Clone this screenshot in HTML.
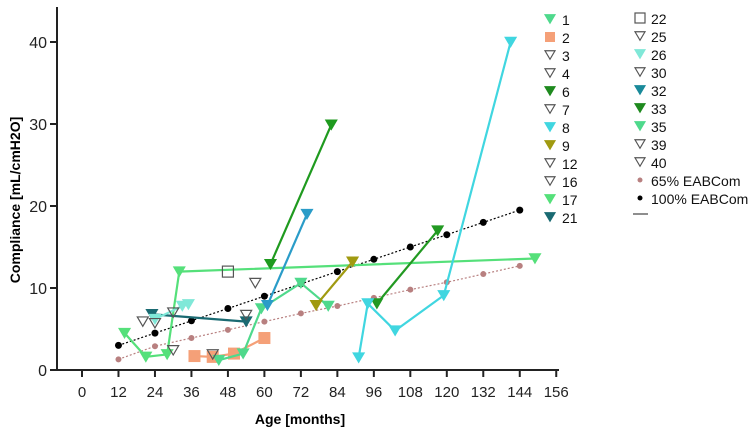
<!DOCTYPE html>
<html><head><meta charset="utf-8"><style>
body{margin:0;background:#fff;}
svg text{font-family:"Liberation Sans",sans-serif;}
</style></head><body>
<svg id="chart" width="749" height="436">
<g id="axes"></g>
<g id="marks"></g>
<g id="legend"></g>
<text transform="translate(20,200) rotate(-90)" text-anchor="middle" font-size="14" font-weight="bold">Compliance [mL/cmH2O]</text>
<text x="300" y="424" text-anchor="middle" font-size="14" font-weight="bold">Age [months]</text>
</svg>
<script>
const xTicks=[0,12,24,36,48,60,72,84,96,108,120,132,144,156];
const yTicks=[0,10,20,30,40];
const refMonths=[12,24,36,48,60,72,84,96,108,120,132,144];
const ref100=[3,4.5,6,7.5,9,10.5,12,13.5,15,16.5,18,19.5];
const ref65=[1.3,2.9,3.9,4.9,5.9,6.9,7.8,8.8,9.8,10.7,11.7,12.7];
const s17x=[14,21,28,32,149];const s17y=[4.5,1.6,1.9,12,13.6];
const s35x=[45,53,59,72,81];const s35y=[1.2,2,7.5,10.6,7.8];
const s21x=[23,54];const s21y=[6.8,5.9];
const s2x=[37,43,50,60];const s2y=[1.7,1.6,2,3.9];
const s6x=[62,82];const s6y=[12.9,29.9];
const s32x=[61,74];const s32y=[7.9,19];
const s9x=[77,89];const s9y=[7.9,13.2];
const s33x=[97,117];const s33y=[8.1,17];
const s8x=[91,94,103,119,141];const s8y=[1.5,8.1,4.8,9.1,40];
const openX=[20,24,30,30,43,54,57];const openY=[5.9,5.7,7,2.4,1.9,6.7,10.6];
const s26x=[24,33,35];const s26y=[6.2,7.8,8];
const s22x=[48];const s22y=[12];
const legend1=["1","2","3","4","6","7","8","9","12","16","17","21"];
const legend2=["22","25","26","30","32","33","35","39","40","65% EABCom","100% EABCom"];

const NS="http://www.w3.org/2000/svg";
const X=m=>82+3.04*m, Y=v=>370-8.2*v;
function mk(tag,attrs,parent,txt){const e=document.createElementNS(NS,tag);for(const k in attrs)e.setAttribute(k,attrs[k]);if(txt!==undefined)e.textContent=txt;parent.appendChild(e);return e;}
const axes=document.getElementById('axes'),marks=document.getElementById('marks'),leg=document.getElementById('legend');
let a=mk('line',{x1:57,y1:7,x2:57,y2:370,stroke:'#222','stroke-width':2},axes);


a=mk('line',{x1:56,y1:370,x2:559,y2:370,stroke:'#222','stroke-width':2},axes);


yTicks.forEach(v=>{mk('line',{x1:50,x2:57,y1:Y(v),y2:Y(v),stroke:'#222','stroke-width':2},axes);
const t=mk('text',{x:47,y:Y(v)+6,'text-anchor':'end','font-size':16,fill:'#222'},axes,v);

});
xTicks.forEach(m=>{mk('line',{x1:X(m),x2:X(m),y1:370,y2:377,stroke:'#222','stroke-width':2},axes);
const t=mk('text',{x:X(m),y:397,'text-anchor':'middle','font-size':15,fill:'#222'},axes,m);

});
function tri(x,y,fill,stroke,parent,s){s=s||5.5;return mk('path',{d:`M${x-s},${y-s*0.85}L${x+s},${y-s*0.85}L${x},${y+s*0.85}Z`,fill:fill,stroke:stroke,'stroke-width':1.2},parent);}
function series(xs,ys,color,name,marker){
 const g=mk('g',{},marks);
 
 
 if(xs.length>1)mk('polyline',{points:xs.map((m,i)=>X(m)+','+Y(ys[i])).join(' '),fill:'none',stroke:color,'stroke-width':2.2},g);
 xs.forEach((m,i)=>{if(marker==='sq')mk('rect',{x:X(m)-6,y:Y(ys[i])-6,width:12,height:12,fill:color},g);else tri(X(m),Y(ys[i]),color,color,g);});
}
function refLine(vals,color,name,r){
 const g=mk('g',{},marks);
 
 
 mk('polyline',{points:refMonths.map((m,i)=>X(m)+','+Y(vals[i])).join(' '),fill:'none',stroke:color,'stroke-width':1.2,'stroke-dasharray':'2,2'},g);
 refMonths.forEach((m,i)=>mk('circle',{cx:X(m),cy:Y(vals[i]),r:r,fill:color},g));
}
refLine(ref65,'#b88080','ref-65-line',3);
refLine(ref100,'#000','ref-100-line',3.5);
series(s2x,s2y,'#f5a078','series-2','sq');
series(s17x,s17y,'#55e07a','series-17');
series(s35x,s35y,'#4fd98c','series-35');
series(s21x,s21y,'#1a6a72','series-21');
series(s6x,s6y,'#1f9a1f','series-6');
series(s32x,s32y,'#2a9cc8','series-32');
series(s9x,s9y,'#a09a10','series-9');
series(s33x,s33y,'#229922','series-33');
series(s8x,s8y,'#40d6e0','series-8');
series(s26x,s26y,'#80e8d8','series-26');
openX.forEach((m,i)=>{const t=tri(X(m),Y(openY[i]),'none','#555',marks);

});
s22x.forEach((m,i)=>{const r=mk('rect',{x:X(m)-5.5,y:Y(s22y[i])-5.5,width:11,height:11,fill:'none',stroke:'#555','stroke-width':1.2},marks);

});
const c1={"1":'#4fd98c',"2":'#f5a078',"6":'#1f8a1f',"8":'#40d6e0',"9":'#a09a10',"17":'#55e07a',"21":'#1a6a72'};
legend1.forEach((l,i)=>{const y=19+i*18;const g=mk('g',{},leg);


if(l==='2')mk('rect',{x:545,y:y-5,width:10,height:10,fill:c1[l]},g);
else if(c1[l])tri(550,y,c1[l],c1[l],g,5);else tri(550,y,'none','#555',g,5);
mk('text',{x:562,y:y+6,'font-size':14,fill:'#111'},g,l);});
const c2={"26":'#80e8d8',"32":'#1a8a9a',"33":'#1f8a1f',"35":'#4fd98c'};
legend2.forEach((l,i)=>{const y=18+i*18;const g=mk('g',{},leg);


if(l==='22')mk('rect',{x:635,y:y-5,width:10,height:10,fill:'none',stroke:'#555','stroke-width':1.2},g);
else if(l==='65% EABCom')mk('circle',{cx:640,cy:y,r:2.5,fill:'#b88080'},g);
else if(l==='100% EABCom')mk('circle',{cx:640,cy:y,r:2.5,fill:'#000'},g);
else if(c2[l])tri(640,y,c2[l],c2[l],g,5);else tri(640,y,'none','#555',g,5);
mk('text',{x:651,y:y+6,'font-size':14,fill:'#111'},g,l);});
a=mk('line',{x1:633,x2:648,y1:214,y2:214,stroke:'#444','stroke-width':1.2},leg);


</script>
</body></html>
